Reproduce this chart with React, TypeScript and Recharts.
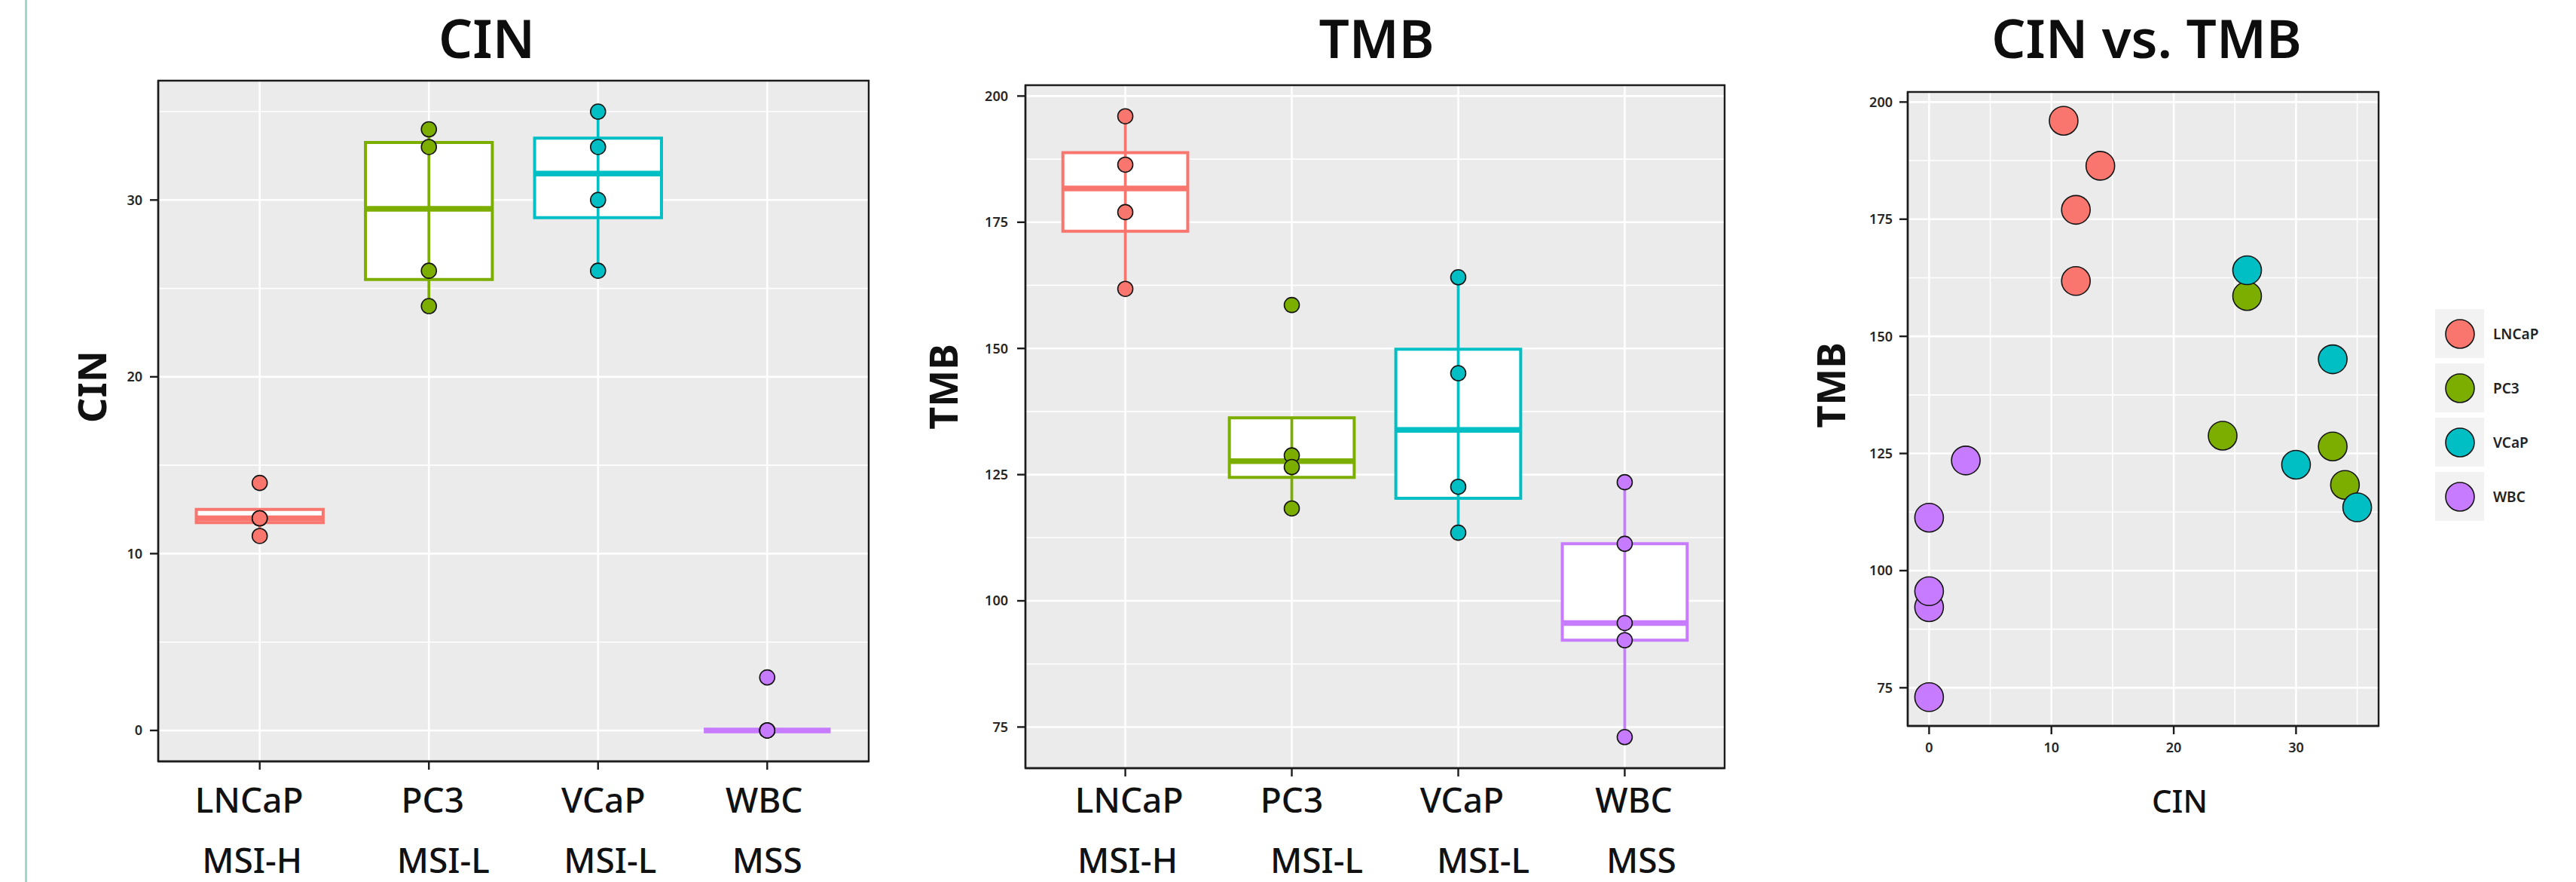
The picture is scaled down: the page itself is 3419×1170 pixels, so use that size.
import React from 'react';
import {
  ScatterChart,
  Scatter,
  XAxis,
  YAxis,
  CartesianGrid,
  ReferenceArea,
  ReferenceLine,
  Legend,
} from 'recharts';

// ---------- data ----------
const cellLines = ['LNCaP', 'PC3', 'VCaP', 'WBC'];
const msiStatus = ['MSI-H', 'MSI-L', 'MSI-L', 'MSS'];
const colors = ['#F8766D', '#7CAE00', '#00BFC4', '#C77CFF'];
const catPositions = [1, 2, 3, 4];

const lncapCIN = [11, 14, 12, 12];
const lncapTMB = [196, 186.4, 177, 161.8];
const pc3CIN = [24, 26, 33, 34];
const pc3TMB = [128.8, 158.6, 126.5, 118.3];
const vcapCIN = [26, 33, 30, 35];
const vcapTMB = [164.1, 145.1, 122.6, 113.5];
const wbcCIN = [3, 0, 0, 0, 0];
const wbcTMB = [123.5, 111.3, 92.2, 95.6, 73.0];

const cinTicks = [0, 10, 20, 30];
const cinMinor = [5, 15, 25, 35];
const tmbTicks = [75, 100, 125, 150, 175, 200];
const tmbMinor = [87.5, 112.5, 137.5, 162.5, 187.5];

const panelTitles = ['CIN', 'TMB', 'CIN vs. TMB'];

const cinGroups = [lncapCIN, pc3CIN, vcapCIN, wbcCIN];
const tmbGroups = [lncapTMB, pc3TMB, vcapTMB, wbcTMB];

// ---------- style ----------
const FONT = "'Noto Sans', 'DejaVu Sans', sans-serif";
const H = 1170;
const GRID_BG = '#EBEBEB';
const BORDER = '#1c1c1c';
const BOX_WIDTH = 0.75;
const NAME_BASELINE = 1078;
const SUB_BASELINE = 1158;

function expandDomain(groups: number[][]): [number, number] {
  const all = groups.flat();
  const mn = Math.min(...all);
  const mx = Math.max(...all);
  const pad = (mx - mn) * 0.05;
  return [mn - pad, mx + pad];
}

function quantile(sorted: number[], p: number) {
  const h = (sorted.length - 1) * p;
  const lo = Math.floor(h);
  const hi = Math.ceil(h);
  return sorted[lo] + (h - lo) * (sorted[hi] - sorted[lo]);
}

function boxStats(vals: number[]) {
  const s = [...vals].sort((a, b) => a - b);
  const q1 = quantile(s, 0.25);
  const med = quantile(s, 0.5);
  const q3 = quantile(s, 0.75);
  const iqr = q3 - q1;
  const lo = Math.min(...s.filter((v) => v >= q1 - 1.5 * iqr));
  const hi = Math.max(...s.filter((v) => v <= q3 + 1.5 * iqr));
  return { q1, med, q3, lo: Math.min(lo, q1), hi: Math.max(hi, q3) };
}

const tickStyle = { fontSize: 18, fill: '#262626', fontWeight: 600, fontFamily: FONT };

function CatTick(props: any) {
  const { x, payload, nameDx, subDx } = props;
  const i = catPositions.indexOf(payload.value);
  if (i < 0) return null;
  return (
    <g>
      <text x={x + nameDx[i]} y={NAME_BASELINE} textAnchor="middle" fontSize={46} fontWeight={500} fontFamily={FONT} fill="#111">
        {cellLines[i]}
      </text>
      <text x={x + subDx[i]} y={SUB_BASELINE} textAnchor="middle" fontSize={46} fontWeight={500} fontFamily={FONT} fill="#111">
        {msiStatus[i]}
      </text>
    </g>
  );
}

function yTitle(text: string, cx: number, cy: number) {
  return () => (
    <text
      x={cx}
      y={cy + 18.5}
      transform={`rotate(-90 ${cx} ${cy})`}
      textAnchor="middle"
      fontSize={52}
      fontWeight={700}
      fontFamily={FONT}
      fill="#111"
    >
      {text}
    </text>
  );
}

function BoxPanel(props: {
  groups: number[][];
  ticks: number[];
  minor: number[];
  width: number;
  margin: { top: number; right: number; bottom: number; left: number };
  xAxisHeight: number;
  yLabel: string;
  yLabelX: number;
  nameDx: number[];
  subDx: number[];
  tickMargin: number;
}) {
  const { groups, ticks, minor, width, margin, xAxisHeight, yLabel, yLabelX, nameDx, subDx, tickMargin } = props;
  const domain = expandDomain(groups);
  const stats = groups.map(boxStats);
  const half = BOX_WIDTH / 2;
  return (
    <ScatterChart width={width} height={H} margin={margin}>
      <CartesianGrid fill={GRID_BG} fillOpacity={1} stroke="#FFFFFF" strokeWidth={1.6} horizontalValues={minor} vertical={false} />
      <CartesianGrid stroke="#FFFFFF" strokeWidth={2.6} horizontalValues={ticks} verticalValues={catPositions} />
      <XAxis
        type="number"
        dataKey="x"
        domain={[0.4, 4.6]}
        ticks={catPositions}
        interval={0}
        allowDataOverflow
        height={xAxisHeight}
        axisLine={{ stroke: BORDER, strokeWidth: 2.4 }}
        tickLine={{ stroke: BORDER, strokeWidth: 2.4 }}
        tickSize={11}
        tick={(p: any) => <CatTick {...p} nameDx={nameDx} subDx={subDx} />}
      />
      <YAxis
        type="number"
        dataKey="y"
        domain={domain}
        ticks={ticks}
        interval={0}
        allowDataOverflow
        width={80}
        axisLine={{ stroke: BORDER, strokeWidth: 2.4 }}
        tickLine={{ stroke: BORDER, strokeWidth: 2.4 }}
        tickSize={11}
        tickMargin={tickMargin}
        tick={tickStyle}
        label={yTitle(yLabel, yLabelX, 513)}
      />
      {stats.map((s, i) => (
        <ReferenceLine
          key={`w-${i}`}
          segment={[
            { x: catPositions[i], y: s.lo },
            { x: catPositions[i], y: s.hi },
          ]}
          stroke={colors[i]}
          strokeWidth={3.7}
          ifOverflow="visible"
        />
      ))}
      {stats.map((s, i) => (
        <ReferenceArea
          key={`b-${i}`}
          x1={catPositions[i] - half}
          x2={catPositions[i] + half}
          y1={s.q1}
          y2={s.q3}
          fill="#FFFFFF"
          fillOpacity={1}
          stroke={colors[i]}
          strokeWidth={4}
          ifOverflow="visible"
        />
      ))}
      {stats.map((s, i) => (
        <ReferenceLine
          key={`m-${i}`}
          segment={[
            { x: catPositions[i] - half, y: s.med },
            { x: catPositions[i] + half, y: s.med },
          ]}
          stroke={colors[i]}
          strokeWidth={7.5}
          ifOverflow="visible"
        />
      ))}
      {groups.map((g, i) => (
        <Scatter
          key={cellLines[i]}
          name={cellLines[i]}
          data={g.map((v) => ({ x: catPositions[i], y: v }))}
          fill={colors[i]}
          isAnimationActive={false}
          shape={(p: any) => <circle cx={p.cx} cy={p.cy} r={10} fill={colors[i]} stroke="#141414" strokeWidth={1.6} />}
        />
      ))}
      <ReferenceArea x1={0.4} x2={4.6} y1={domain[0]} y2={domain[1]} fill="none" stroke={BORDER} strokeWidth={2.4} ifOverflow="visible" />
    </ScatterChart>
  );
}

function LegendContent() {
  return (
    <div style={{ display: 'flex', flexDirection: 'column', gap: 7, fontFamily: FONT }}>
      {cellLines.map((name, i) => (
        <div key={name} style={{ display: 'flex', alignItems: 'center', height: 65 }}>
          <div style={{ width: 65, height: 65, background: '#F2F2F2', display: 'flex', alignItems: 'center', justifyContent: 'center' }}>
            <svg width={42} height={42}>
              <circle cx={21} cy={21} r={19} fill={colors[i]} stroke="#141414" strokeWidth={1.6} />
            </svg>
          </div>
          <span style={{ marginLeft: 12, fontSize: 19, fontWeight: 600, color: '#222' }}>{name}</span>
        </div>
      ))}
    </div>
  );
}

// panel 3 chart div starts at x = 2340 on the page
function ScatterPanel() {
  const xDomain = expandDomain(cinGroups);
  const yDomain = expandDomain(tmbGroups);
  return (
    <ScatterChart width={1079} height={H} margin={{ top: 122, right: 262, bottom: 0, left: 112 }}>
      <CartesianGrid fill={GRID_BG} fillOpacity={1} stroke="#FFFFFF" strokeWidth={1.6} horizontalValues={tmbMinor} verticalValues={cinMinor} />
      <CartesianGrid stroke="#FFFFFF" strokeWidth={2.6} horizontalValues={tmbTicks} verticalValues={cinTicks} />
      <XAxis
        type="number"
        dataKey="x"
        domain={xDomain}
        ticks={cinTicks}
        interval={0}
        allowDataOverflow
        height={207}
        axisLine={{ stroke: BORDER, strokeWidth: 2.4 }}
        tickLine={{ stroke: BORDER, strokeWidth: 2.4 }}
        tickSize={11}
        tickMargin={11}
        tick={tickStyle}
        label={() => (
          <text x={553} y={1078} textAnchor="middle" fontSize={42} fontWeight={500} fontFamily={FONT} fill="#111">
            CIN
          </text>
        )}
      />
      <YAxis
        type="number"
        dataKey="y"
        domain={yDomain}
        ticks={tmbTicks}
        interval={0}
        allowDataOverflow
        width={80}
        axisLine={{ stroke: BORDER, strokeWidth: 2.4 }}
        tickLine={{ stroke: BORDER, strokeWidth: 2.4 }}
        tickSize={11}
        tickMargin={9}
        tick={tickStyle}
        label={yTitle('TMB', 90, 511)}
      />
      {cinGroups.map((g, i) => (
        <Scatter
          key={cellLines[i]}
          name={cellLines[i]}
          data={g.map((v, j) => ({ x: v, y: tmbGroups[i][j] }))}
          fill={colors[i]}
          isAnimationActive={false}
          shape={(p: any) => <circle cx={p.cx} cy={p.cy} r={19} fill={colors[i]} stroke="#141414" strokeWidth={1.6} />}
        />
      ))}
      <ReferenceArea x1={xDomain[0]} x2={xDomain[1]} y1={yDomain[0]} y2={yDomain[1]} fill="none" stroke={BORDER} strokeWidth={2.4} ifOverflow="visible" />
      <Legend layout="vertical" align="center" verticalAlign="middle" wrapperStyle={{ left: 892, top: 410, width: 170 }} content={() => <LegendContent />} />
    </ScatterChart>
  );
}

export default function App() {
  return (
    <div style={{ position: 'absolute', left: 0, top: 0, width: 3419, height: H, background: '#FFFFFF', overflow: 'hidden' }}>
      <div style={{ position: 'absolute', left: 33, top: 0, width: 2.6, height: H, background: '#9ED8C9' }} />
      <svg style={{ position: 'absolute', left: 0, top: 0 }} width={3419} height={100}>
        {[646, 1827, 2849].map((cx, i) => (
          <text key={panelTitles[i]} x={cx} y={77} textAnchor="middle" fontSize={71} fontWeight={600} fontFamily={FONT} fill="#0d0d0d">
            {panelTitles[i]}
          </text>
        ))}
      </svg>
      <div style={{ position: 'absolute', left: 0, top: 0 }}>
        <BoxPanel
          groups={cinGroups}
          ticks={cinTicks}
          minor={cinMinor}
          width={1200}
          margin={{ top: 107, right: 47, bottom: 0, left: 130 }}
          xAxisHeight={160}
          yLabel="CIN"
          yLabelX={122}
          nameDx={[-14, 5, 7, -4]}
          subDx={[-10, 19, 16, 0]}
          tickMargin={10}
        />
      </div>
      <div style={{ position: 'absolute', left: 1160, top: 0 }}>
        <BoxPanel
          groups={tmbGroups}
          ticks={tmbTicks}
          minor={tmbMinor}
          width={1240}
          margin={{ top: 113, right: 111, bottom: 0, left: 121 }}
          xAxisHeight={151}
          yLabel="TMB"
          yLabelX={92}
          nameDx={[5, 0, 5, 12]}
          subDx={[3, 33, 33, 22]}
          tickMargin={12}
        />
      </div>
      <div style={{ position: 'absolute', left: 2340, top: 0 }}>
        <ScatterPanel />
      </div>
    </div>
  );
}
